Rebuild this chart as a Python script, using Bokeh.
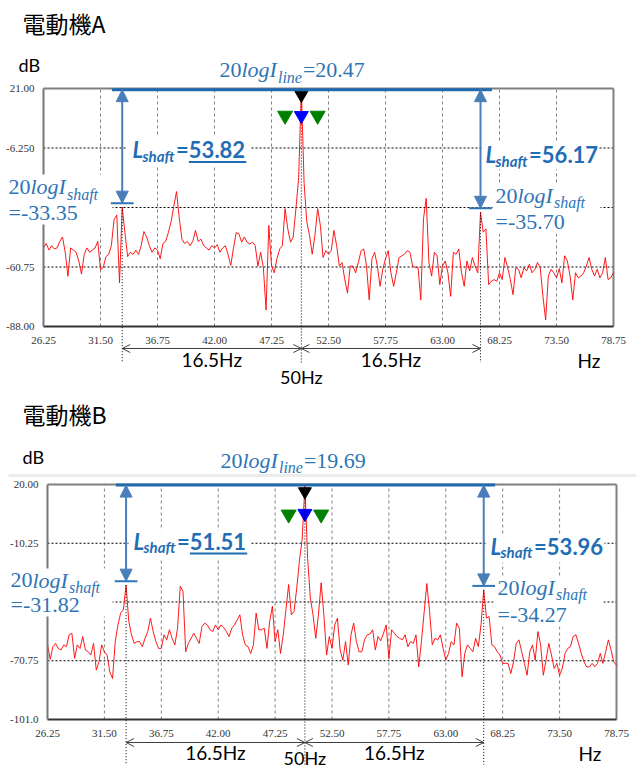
import numpy as np
from bokeh.plotting import figure
from bokeh.layouts import column
from bokeh.models import (Range1d, FixedTicker, Label, Arrow, NormalHead, OpenHead,
                          BoxAnnotation, ColumnDataSource)
from bokeh.embed import file_html
from bokeh.resources import INLINE

# ---------------------------------------------------------------- data
freq_start = 26.25
freq_step = 0.25
x_ticks = [26.25, 31.50, 36.75, 42.00, 47.25, 52.50, 57.75, 63.00, 68.25, 73.50, 78.75]
x_tick_labels = ["26.25", "31.50", "36.75", "42.00", "47.25", "52.50",
                 "57.75", "63.00", "68.25", "73.50", "78.75"]

supply_freq = 50.0
shaft_offset = 16.5
shaft_freqs = [33.5, 66.5]
marker_freqs = [50.0, 50.0, 48.5, 51.5]
marker_colors = ["#000000", "#0000ff", "#008000", "#008000"]

a_title = "電動機A"
a_y_ticks = [21.0, -6.25, -33.5, -60.75, -88.0]
a_y_tick_labels = ["21.00", "-6.250", "", "-60.75", "-88.00"]
a_line_level = 20.47
a_shaft_levels = [-33.35, -35.70]
a_L_shaft = [53.82, 56.17]
a_marker_levels = [18.0, 8.6, 8.6, 8.6]
a_spectrum_db = [
    -52, -50, -53,
    -51, -52.5, -52, -49,
    -47, -54, -65, -52,
    -53, -54, -58, -64,
    -55, -52, -54, -53,
    -52, -49, -62, -61,
    -56, -55, -51, -39,
    -37, -68, -33.35, -45,
    -56, -54, -55, -53,
    -55, -51, -44.5, -47,
    -51, -54, -52, -53,
    -57, -50, -49, -45,
    -40, -33, -26.2, -38,
    -48, -50, -49, -51,
    -49, -44, -49, -48,
    -51, -52, -53, -51,
    -52, -50.5, -54, -52,
    -51, -55, -60, -52,
    -45, -45.6, -49.4, -47,
    -49.4, -50.2, -49.4, -51,
    -60.3, -54, -61, -80.4,
    -41.7, -60, -63.4, -57,
    -52.5, -51, -34, -43.3,
    -49.4, -47, -34, -20,
    20.47, -22, -40, -46.3,
    -54.9, -46.3, -34, -41.7,
    -56.4, -53.3, -54.9, -53.3,
    -44, -51, -60.3, -58.7,
    -66.5, -72.7, -60.3, -60.3,
    -63.4, -58.7, -53.3, -52.5,
    -60.3, -75.8, -57, -54,
    -60.3, -69.6, -61.8, -57,
    -53.3, -63.4, -69.6, -63.4,
    -56.4, -55.6, -54.9, -53.3,
    -54, -60.3, -61, -61,
    -75.8, -38.6, -29.3, -58.7,
    -64.9, -54, -55.6, -68.8,
    -60.3, -58, -63.4, -74.2,
    -54, -54.9, -52.5, -63.4,
    -69.6, -58, -62.6, -56.4,
    -60.3, -63.4, -35.70, -44.8,
    -43.3, -68.8, -67.3, -66.5,
    -67.3, -63.4, -66.5, -56.4,
    -61, -66.5, -73.4, -61,
    -61.8, -65.7, -61, -62.6,
    -59.5, -63.4, -61.8, -58.7,
    -61, -74.2, -85, -64.9,
    -61.8, -63.4, -65.7, -61.5,
    -68, -55.6, -58, -64.9,
    -75.8, -63.4, -65.7, -64.9,
    -63.4, -60.3, -56.4, -61.8,
    -64.9, -61.8, -65.7, -63.4,
    -56.4, -66.5, -65.7, -63.4,
]

b_title = "電動機B"
b_y_ticks = [20.0, -10.25, -40.5, -70.75, -101.0]
b_y_tick_labels = ["20.00", "-10.25", "", "-70.75", "-101.0"]
b_line_level = 19.69
b_shaft_levels = [-31.82, -34.27]
b_L_shaft = [51.51, 53.96]
b_marker_levels = [16.4, 5.1, 4.6, 4.6]
b_spectrum_db = [
    -62.6, -70, -63.5,
    -61.8, -64.4, -65.2, -62.6,
    -63.5, -57.4, -56.6, -69.5,
    -62.6, -64.4, -58.3, -65.2,
    -66.1, -67.8, -61.8, -75.6,
    -71.3, -62.6, -66.1, -67.8,
    -76.5, -79.9, -60.9, -52.3,
    -46.2, -44.5, -31.82, -50.5,
    -57.4, -61.8, -60.9, -60.9,
    -63.5, -59.2, -55.7, -48.8,
    -55.7, -60.9, -64.4, -64.4,
    -57.4, -60, -54.8, -59.2,
    -62.6, -54, -32.4, -35,
    -66.1, -61.8, -59.2, -56.6,
    -59.2, -61.8, -53.1, -51.4,
    -52.3, -54.8, -55.7, -52.3,
    -54.8, -52.3, -53.6, -55.7,
    -58.3, -54, -52.3, -49.7,
    -47.1, -57.4, -62.6, -63.5,
    -67, -62.6, -46.2, -54.8,
    -54.8, -54, -64.4, -50.5,
    -42.7, -60.9, -54.8, -67,
    -57.4, -44.5, -31.5, -47.1,
    -45.3, -33.2, -19, -8,
    19.69, -18, -38.4, -47.1,
    -59.2, -47.1, -30.6, -47.1,
    -67.8, -58.3, -64.4, -52.3,
    -48.8, -65.2, -70.4, -60.9,
    -73, -57.4, -51.4, -60.9,
    -66.1, -66.1, -60, -57.4,
    -57, -54.8, -65.2, -58.3,
    -60.5, -56.6, -52.3, -69.5,
    -54.8, -56.6, -58.3, -59.2,
    -60, -57.4, -63.5, -60.9,
    -61.8, -57.4, -73.9, -60.9,
    -46, -31, -45, -62.6,
    -59.2, -60, -57.4, -64.4,
    -70.4, -67, -60.9, -62.6,
    -51.4, -54, -79, -67,
    -62.6, -64.4, -66.1, -59.2,
    -63.5, -52.3, -34.27, -48.8,
    -48, -62.6, -63.5, -66.1,
    -67.8, -72.1, -72.1, -72.1,
    -77.3, -71.3, -61.8, -60,
    -66.1, -72.1, -78.2, -66.1,
    -62.6, -70.4, -55.7, -62.6,
    -78.2, -70.4, -61.8, -67.8,
    -74.7, -72.1, -78.2, -74.7,
    -67, -64.4, -63.5, -58.3,
    -57.4, -61.8, -67, -71.3,
    -73.9, -73.9, -72.1, -73.9,
    -72.1, -67, -72.1, -66.1,
    -60, -65.2, -71.3, -73,
]

# ---------------------------------------------------------------- styles
BLUE_TXT = "#2e75b6"
BLUE_BOLD = "#1f6db5"
BLUE_LINE = "#1f6bb0"
ARROW_C = "#4a7ebb"
SERIF = "Liberation Serif"
SANS = "Lato"
CJK = "Noto Sans CJK JP"
TICKF = "Liberation Sans Narrow"
PAGE_W = 636

SER = {**{d: 0.5 for d in "0123456789"}, ".": 0.25, "=": 0.564, "-": 0.333}
SER_I = {"l": .278, "o": .5, "g": .5, "I": .333, "i": .278, "n": .5, "e": .444,
         "s": .389, "h": .5, "a": .5, "f": .278, "t": .278}
LB = {**{d: 0.58 for d in "0123456789"}, ".": 0.29, "=": 0.58}
LBI = {"L": .5, "s": .44, "h": .58, "a": .52, "f": .33, "t": .37}


def tw(text, size, table):
    return sum(table.get(c, 0.5) for c in text) * size


class Geo:
    """page pixel -> data mapping; the frame fills the whole canvas of the figure"""
    def __init__(self, canvas_top, height, left, right, top, bottom, xr, yr):
        self.canvas_top, self.height = canvas_top, height
        self.left, self.right, self.top, self.bottom = left, right, top, bottom
        self.xr, self.yr = xr, yr

    def x(self, px):
        return self.xr[0] + (px - self.left) / (self.right - self.left) * (self.xr[1] - self.xr[0])

    def y(self, py):
        return self.yr[1] - (py - self.top) / (self.bottom - self.top) * (self.yr[1] - self.yr[0])

    def dy(self, pixels):
        return pixels / (self.bottom - self.top) * (self.yr[1] - self.yr[0])


def lab(p, geo, px, cy, text, font, size, style="normal", color="black", align="left", xdata=None):
    p.add_layout(Label(x=geo.x(px) if xdata is None else xdata, y=geo.y(cy), text=text,
                       text_font=font, text_font_size=f"{size}px", text_font_style=style,
                       text_color=color, text_align=align, text_baseline="middle"))


def hline(p, x0, x1, y, color, width, dash="solid"):
    p.add_layout(Arrow(x_start=x0, y_start=y, x_end=x1, y_end=y, end=None,
                       line_color=color, line_width=width, line_dash=dash))


def vline(p, x, y0, y1, color, width, dash="solid"):
    p.add_layout(Arrow(x_start=x, y_start=y0, x_end=x, y_end=y1, end=None,
                       line_color=color, line_width=width, line_dash=dash))


def formula(p, geo, x0, cy, sub_cy, sub, tail, tail_pos=None, size=22, sub_size=16):
    x = x0
    lab(p, geo, x, cy, "20", SERIF, size, color=BLUE_TXT)
    x += tw("20", size, SER)
    lab(p, geo, x, cy, "logI", SERIF, size, "italic", BLUE_TXT)
    x += tw("logI", size, SER_I) + 1
    lab(p, geo, x, sub_cy, sub, SERIF, sub_size, "italic", BLUE_TXT)
    x += tw(sub, sub_size, SER_I) + 1
    if tail_pos is None:
        lab(p, geo, x, cy, tail, SERIF, size, color=BLUE_TXT)
    else:
        lab(p, geo, tail_pos[0], tail_pos[1], tail, SERIF, size, color=BLUE_TXT)


def lblock(p, geo, x0, cy, sub_cy, value_text, underline_y=None, size=22, sub_size=15):
    lab(p, geo, x0, cy, "L", SANS, size, "bold italic", BLUE_BOLD)
    x = x0 + tw("L", size, LBI) - 1
    lab(p, geo, x, sub_cy, "shaft", SANS, sub_size, "bold italic", BLUE_BOLD)
    x += tw("shaft", sub_size, LBI)
    lab(p, geo, x, cy, "=", SANS, size, "bold", BLUE_BOLD)
    x += tw("=", size, LB)
    lab(p, geo, x, cy, value_text, SANS, size, "bold", BLUE_BOLD)
    if underline_y is not None:
        w = tw(value_text, size, LB)
        hline(p, geo.x(x), geo.x(x + w), geo.y(underline_y), BLUE_BOLD, 2)


def white_box(p, geo, x0, x1, y0, y1):
    p.add_layout(BoxAnnotation(left=geo.x(x0), right=geo.x(x1), top=geo.y(y0), bottom=geo.y(y1),
                               fill_color="white", fill_alpha=1.0, line_color=None))


def build(geo, title, y_ticks, y_tick_labels, spectrum, line_level, shaft_levels, L_vals,
          marker_levels, lay):
    top_px, h = geo.canvas_top, geo.height
    p = figure(width=PAGE_W, height=h,
               x_range=Range1d(geo.x(0), geo.x(PAGE_W)),
               y_range=Range1d(geo.y(top_px + h), geo.y(top_px)),
               output_backend="svg", toolbar_location=None, title=None, min_border=0)
    p.background_fill_color = "white"
    p.border_fill_color = "white"
    p.outline_line_color = None
    p.grid.visible = False

    x0, x1 = x_ticks[0], x_ticks[-1]
    y0, y1 = y_ticks[-1], y_ticks[0]

    # axes of the library, fixed at the plot box edges
    p.xaxis.ticker = FixedTicker(ticks=x_ticks, minor_ticks=[])
    p.xaxis.major_label_overrides = {t: s for t, s in zip(x_ticks, x_tick_labels)}
    p.yaxis.ticker = FixedTicker(ticks=y_ticks, minor_ticks=[])
    p.yaxis.major_label_overrides = {t: s for t, s in zip(y_ticks, y_tick_labels)}
    p.xaxis.fixed_location = y0
    p.yaxis.fixed_location = x0
    p.xaxis.bounds = (x0, x1)
    p.yaxis.bounds = (y0, y1)
    for ax in (p.xaxis, p.yaxis):
        ax.major_tick_line_color = None
        ax.minor_tick_line_color = None
        ax.major_label_text_font = TICKF
        ax.major_label_text_font_size = "11px"
        ax.major_label_text_color = "#333333"
        ax.axis_line_width = 2
    p.xaxis.axis_line_color = "#333333"
    p.yaxis.axis_line_color = "#777777"
    p.xaxis.major_label_standoff = 4
    p.yaxis.major_label_standoff = 3

    # grid lines inside the plot box
    gx = x_ticks[1:-1]
    p.segment(x0=gx, y0=[y0] * len(gx), x1=gx, y1=[y1] * len(gx),
              line_color="#808080", line_dash="3 3", line_width=1)
    gy = y_ticks[1:-1]
    p.segment(x0=[x0] * len(gy), y0=gy, x1=[x1] * len(gy), y1=gy,
              line_color="#000000", line_dash="2 2", line_width=1)
    # top / right border of the plot box
    p.segment(x0=[x0, x1], y0=[y1, y0], x1=[x1, x1], y1=[y1, y1],
              line_color="#808080", line_width=2)

    freqs = freq_start + freq_step * np.arange(len(spectrum))
    p.line(freqs, spectrum, line_color="#ff0000", line_width=1, line_alpha=0.9)

    # white text boxes (hide gridlines under the annotation texts)
    for bx in lay["boxes"]:
        white_box(p, geo, *bx)

    # supply frequency and shaft side-band lines (vertical dotted)
    bottom_y = geo.y(lay["vline_bottom"])
    vline(p, supply_freq, y1, bottom_y, "black", 1, "1 2")
    for f, lvl in zip(shaft_freqs, shaft_levels):
        vline(p, f, lvl, bottom_y, "black", 1, "1 2")

    # 20logI_line level line
    hline(p, shaft_freqs[0] - 0.95, shaft_freqs[1] + 1.05, line_level, BLUE_LINE, 3)

    # level arrows and shaft level bars
    gap = geo.dy(4)
    for f, lvl in zip(shaft_freqs, shaft_levels):
        p.add_layout(Arrow(x_start=f, y_start=line_level, x_end=f, y_end=lvl + gap,
                           start=NormalHead(size=12, fill_color=ARROW_C, line_color=ARROW_C, line_width=1),
                           end=NormalHead(size=12, fill_color=ARROW_C, line_color=ARROW_C, line_width=1),
                           line_color=ARROW_C, line_width=2))
        hline(p, f - 1.05, f + 1.05, lvl + gap, BLUE_TXT, 2)

    # peak markers
    src = ColumnDataSource(dict(x=marker_freqs, y=marker_levels, c=marker_colors,
                                s=[13, 14, 15, 15]))
    p.scatter("x", "y", source=src, marker="inverted_triangle", size="s",
              fill_color="c", line_color="c")

    # 16.5 Hz dimension arrows below the axis
    ay = geo.y(lay["dim_y"])
    for fa, fb in ((shaft_freqs[0], supply_freq), (supply_freq, shaft_freqs[1])):
        p.add_layout(Arrow(x_start=fa, y_start=ay, x_end=fb, y_end=ay,
                           start=OpenHead(size=8, line_color="#404040", line_width=1),
                           end=OpenHead(size=8, line_color="#404040", line_width=1),
                           line_color="#404040", line_width=1))
        lab(p, geo, 0, lay["dim_text"], f"{shaft_offset}Hz", SANS, 19, align="center",
            xdata=(fa + fb) / 2)
    lab(p, geo, 0, lay["f50_text"], f"{supply_freq:.0f}Hz", SANS, 18, align="center",
        xdata=supply_freq)
    lab(p, geo, lay["hz"][0], lay["hz"][1], "Hz", SANS, 19)

    # titles
    lab(p, geo, lay["title"][0], lay["title"][1], title, CJK, 23)
    lab(p, geo, lay["db"][0], lay["db"][1], "dB", SANS, 18)
    if "sep" in lay:
        hline(p, geo.x(8), geo.x(PAGE_W), geo.y(lay["sep"]), "#ececec", 3)

    # formula texts
    t = lay["line_txt"]
    formula(p, geo, t[0], t[1], t[2], "line", f"={line_level:.2f}")
    for (xs, cy, scy, cy2), lvl in zip(lay["shaft_txt"], shaft_levels):
        formula(p, geo, xs, cy, scy, "shaft", f"={lvl:.2f}", tail_pos=(xs, cy2))
    for (xs, cy, scy, uy), L in zip(lay["L_txt"], L_vals):
        lblock(p, geo, xs, cy, scy, f"{L:.2f}", underline_y=uy)
    return p


geoA = Geo(0, 392, 43, 613, 88, 326, (x_ticks[0], x_ticks[-1]), (a_y_ticks[-1], a_y_ticks[0]))
geoB = Geo(392, 377, 47, 616, 484, 719, (x_ticks[0], x_ticks[-1]), (b_y_ticks[-1], b_y_ticks[0]))

layA = dict(
    boxes=[(126, 250, 136, 165), (8, 112, 174, 224), (482, 598, 142, 169), (492, 600, 184, 233)],
    vline_bottom=362, dim_y=348, dim_text=359, f50_text=376, hz=(577, 360),
    title=(22, 22), db=(18, 64),
    line_txt=(219, 69, 77),
    shaft_txt=[(8, 186, 194, 212), (495, 195, 202, 221)],
    L_txt=[(132, 148.5, 155, 161.5), (485, 153.5, 160, None)],
)
layB = dict(
    boxes=[(128, 250, 530, 558), (10, 112, 568, 616), (486, 604, 534, 562), (493, 603, 576, 626)],
    vline_bottom=764, dim_y=742, dim_text=752, f50_text=757, hz=(578, 753),
    title=(22, 413), db=(22, 456), sep=475,
    line_txt=(220, 460, 467),
    shaft_txt=[(10, 579.5, 587, 603.5), (497, 587, 594, 613.5)],
    L_txt=[(133, 540.5, 546, 553), (490, 545.5, 551, None)],
)

pA = build(geoA, a_title, a_y_ticks, a_y_tick_labels, a_spectrum_db, a_line_level,
           a_shaft_levels, a_L_shaft, a_marker_levels, layA)
pB = build(geoB, b_title, b_y_ticks, b_y_tick_labels, b_spectrum_db, b_line_level,
           b_shaft_levels, b_L_shaft, b_marker_levels, layB)

layout = column(pA, pB)
open("out.html", "w").write(file_html(layout, INLINE))
